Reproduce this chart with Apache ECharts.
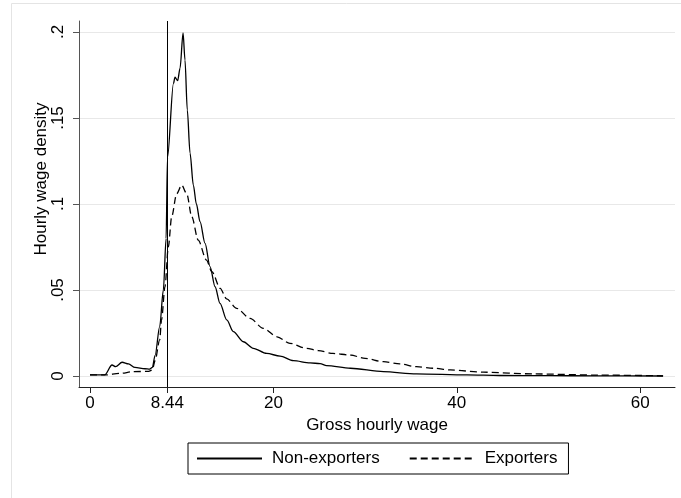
<!DOCTYPE html>
<html lang="en">
  <head>
    <meta charset="UTF-8" />
    <title>Hourly wage density</title>
    <script src="https://cdn.jsdelivr.net/npm/echarts@6.0.0/dist/echarts.min.js"></script>
    <style>
      html, body { margin: 0; padding: 0; background: #fff; }
    </style>
  </head>
  <body>
    <div id="wageChart" style="width: 681px; height: 498px"></div>

    <script type="text/javascript">
      // kernel density: wage (x) and density (y)
      const nonExpX = [0, 1.6, 2.4, 2.8, 3.5, 4.2, 4.9, 6.0, 6.5, 6.8, 7.1, 7.6, 8.0, 8.3, 8.45, 9.1, 9.27, 9.56, 9.82, 10.15, 10.36, 10.61, 10.91, 11.27, 11.6, 12.0, 12.55, 13.09, 13.64, 14.18, 14.91, 15.63, 16.72, 17.81, 19.27, 20.73, 22.18, 24.0, 25.1, 25.8, 28.4, 32.0, 35.6, 41.1, 44.7, 50, 55, 62.5];
      const nonExpY = [0.0006, 0.0006, 0.0064, 0.0054, 0.008, 0.007, 0.005, 0.0042, 0.004, 0.005, 0.012, 0.0287, 0.05, 0.08, 0.127, 0.17, 0.1737, 0.1717, 0.179, 0.1995, 0.1837, 0.1547, 0.1296, 0.111, 0.1, 0.0897, 0.0771, 0.0636, 0.0519, 0.0422, 0.0326, 0.0258, 0.0199, 0.0161, 0.0131, 0.0116, 0.0089, 0.0076, 0.0072, 0.006, 0.0045, 0.0025, 0.0012, 0.0006, 0.0003, 0.0002, 0.0001, 0];

      const expX = [0, 1.6, 3.3, 4.7, 6.4, 6.8, 7.1, 7.6, 7.8, 8.18, 8.54, 8.91, 9.45, 10.0, 10.55, 11.1, 11.8, 12.7, 13.3, 14.2, 14.9, 16.0, 17.45, 18.9, 20.4, 21.8, 23.6, 24.9, 26.5, 28.4, 30, 32.0, 33.8, 35.6, 37.5, 39.3, 42.9, 48.4, 55.6, 62.5];
      const expY = [0.0006, 0.0006, 0.0015, 0.0025, 0.0027, 0.0035, 0.009, 0.021, 0.0326, 0.052, 0.075, 0.0926, 0.106, 0.111, 0.106, 0.0926, 0.079, 0.0674, 0.0606, 0.051, 0.0448, 0.0393, 0.0335, 0.0277, 0.0228, 0.019, 0.0161, 0.0148, 0.0131, 0.0122, 0.0102, 0.0083, 0.007, 0.0054, 0.0045, 0.0035, 0.0022, 0.0012, 0.0005, 0.0001];

      const xTicks = [0, 8.44, 20, 40, 60];
      const yTicks = [0, 0.05, 0.1, 0.15, 0.2];
      const minWage = 8.44;

      const font = "'Liberation Sans', Arial, sans-serif";

      const chart = echarts.init(document.getElementById("wageChart"));

      const pairs = (xs, ys) => xs.map((x, i) => [x, ys[i]]);

      const option = {
        animation: false,
        backgroundColor: "#fff",
        textStyle: { fontFamily: font, color: "#000" },
        grid: { left: 79, top: 21, width: 596, height: 366 },
        xAxis: {
          type: "value",
          min: -1.2,
          max: 63.8,
          name: "Gross hourly wage",
          nameLocation: "middle",
          nameGap: 26,
          nameTextStyle: { fontSize: 17, color: "#000", fontFamily: font },
          axisLine: { onZero: false, lineStyle: { color: "#222", width: 1 } },
          axisTick: { customValues: xTicks, length: 6, lineStyle: { color: "#222" } },
          axisLabel: {
            customValues: xTicks,
            fontSize: 17,
            color: "#000",
            margin: 8,
            formatter: (v) => String(v),
          },
          splitLine: { show: false },
        },
        yAxis: {
          type: "value",
          min: -0.0064,
          max: 0.2064,
          axisLine: { onZero: false, lineStyle: { color: "#555", width: 1 } },
          axisTick: { customValues: yTicks, length: 6, lineStyle: { color: "#555" } },
          axisLabel: {
            customValues: yTicks,
            fontSize: 17,
            color: "#000",
            rotate: 90,
            margin: 12,
            formatter: (v) => (v === 0 ? "0" : String(+v.toFixed(2)).replace(/^0/, "")),
          },
          splitLine: { show: true, lineStyle: { color: "#e8e8e8", width: 1 } },
        },
        legend: {
          left: 188,
          top: 443,
          itemWidth: 65,
          itemHeight: 14,
          itemGap: 29,
          padding: [7, 11, 7, 8],
          borderColor: "#000",
          borderWidth: 1,
          borderRadius: 0,
          itemStyle: { opacity: 0 },
          textStyle: { fontSize: 17, color: "#000", fontFamily: font, padding: [0, 0, 0, 5] },
          data: ["Non-exporters", "Exporters"],
        },
        graphic: [
          {
            type: "rect",
            silent: true,
            shape: { x: 11.5, y: 3.5, width: 720, height: 560 },
            style: { fill: null, stroke: "#e4e4e4", lineWidth: 1 },
          },
          {
            type: "text",
            silent: true,
            x: 41,
            y: 179,
            rotation: Math.PI / 2,
            style: {
              text: "Hourly wage density",
              font: "17px " + font,
              fill: "#000",
              align: "center",
              verticalAlign: "middle",
            },
          },
        ],
        series: [
          {
            name: "Non-exporters",
            type: "line",
            symbol: "none",
            smooth: 0.3,
            smoothMonotone: "x",
            color: "#000",
            lineStyle: { color: "#000", width: 1.3, type: "solid" },
            data: pairs(nonExpX, nonExpY),
            markLine: {
              silent: true,
              symbol: "none",
              label: { show: false },
              lineStyle: { color: "#000", width: 1, type: "solid" },
              data: [{ xAxis: minWage }],
            },
          },
          {
            name: "Exporters",
            type: "line",
            symbol: "none",
            smooth: 0.3,
            smoothMonotone: "x",
            color: "#000",
            lineStyle: { color: "#000", width: 1.3, type: [7, 4] },
            data: pairs(expX, expY),
          },
        ],
      };

      chart.setOption(option);
    </script>
  </body>
</html>
